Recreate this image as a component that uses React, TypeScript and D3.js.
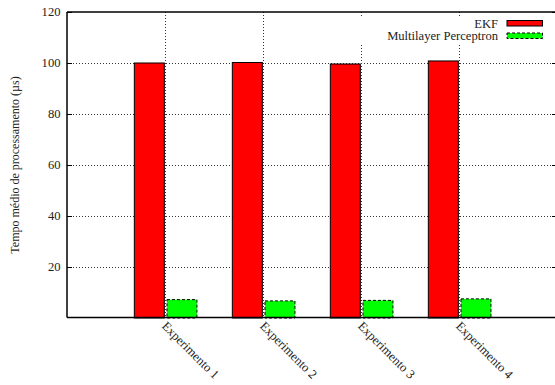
import React from "react";
import * as d3 from "d3";

const categories = ["Experimento 1", "Experimento 2", "Experimento 3", "Experimento 4"];
const ekfValues = [100.0, 100.2, 99.6, 100.8];
const mlpValues = [7.2, 6.7, 6.9, 7.5];
const yTicks = [20, 40, 60, 80, 100, 120];
const seriesNames = ["EKF", "Multilayer Perceptron"];
const seriesColors = ["#ff0000", "#00ff00"];

const W = 555;
const H = 385;
const FONT = '"Liberation Serif"';

export default function App() {
  const x = d3.scaleLinear().domain([-1, 4]).range([67, 557]);
  const y = d3.scaleLinear().domain([0, 120]).range([318, 12]);
  const barW = x(0.306) - x(0);
  const left = 67;
  const right = 557;
  const top = 12;
  const bottom = 317.5;
  const ts = { fontFamily: FONT, fontSize: 12.6 } as React.CSSProperties;

  return (
    <svg
      width={W}
      height={H}
      style={{ position: "absolute", left: 0, top: 0, background: "#fff", fontFamily: FONT }}
    >
      <rect x={0} y={0} width={W} height={H} fill="#fff" />
      {yTicks.filter((t) => t < 120).map((t) => (
        <line
          key={"hg" + t}
          x1={left}
          x2={right}
          y1={Math.round(y(t)) + 0.5}
          y2={Math.round(y(t)) + 0.5}
          stroke="#333"
          strokeWidth={1}
          strokeDasharray="1,2"
        />
      ))}
      {categories.map((c, i) => (
        <line
          key={"vg" + i}
          x1={Math.round(x(i)) + 0.5}
          x2={Math.round(x(i)) + 0.5}
          y1={top}
          y2={bottom}
          stroke="#333"
          strokeWidth={1}
          strokeDasharray="1,2"
        />
      ))}
      {yTicks.map((t) => (
        <g key={"yt" + t}>
          <line x1={left} x2={left + 5} y1={Math.round(y(t)) + 0.5} y2={Math.round(y(t)) + 0.5} stroke="#000" />
          <line x1={right - 5} x2={right} y1={Math.round(y(t)) + 0.5} y2={Math.round(y(t)) + 0.5} stroke="#000" />
          <text x={60.5} y={y(t)} textAnchor="end" dominantBaseline="central" style={ts} fill="#222">
            {t}
          </text>
        </g>
      ))}
      {categories.map((c, i) => (
        <g key={"b" + i}>
          <rect
            x={x(i - 0.313)}
            y={y(ekfValues[i])}
            width={barW}
            height={y(0) - y(ekfValues[i])}
            fill={seriesColors[0]}
            stroke="#000"
            strokeWidth={1}
          />
          <rect
            x={x(i + 0.02)}
            y={y(mlpValues[i])}
            width={barW}
            height={y(0) - y(mlpValues[i])}
            fill={seriesColors[1]}
            stroke="#000"
            strokeWidth={1}
            strokeDasharray="3,2"
          />
        </g>
      ))}
      {categories.map((c, i) => (
        <text
          key={"xl" + i}
          transform={`translate(${x(i) - 1},${324}) rotate(45)`}
          textAnchor="start"
          dominantBaseline="central"
          style={ts}
          fill="#222"
        >
          {c}
        </text>
      ))}
      <rect x={356} y={17} width={199} height={26} fill="#fff" />
      {seriesNames.map((s, k) => (
        <g key={"lg" + k}>
          <text x={498} y={23.5 + k * 12.5} textAnchor="end" dominantBaseline="central" style={ts} fill="#222">
            {s}
          </text>
          <rect
            x={507}
            y={20.5 + k * 12.5}
            width={35.5}
            height={5.5}
            fill={seriesColors[k]}
            stroke="#000"
            strokeWidth={1}
            strokeDasharray={k === 1 ? "3,2" : undefined}
          />
        </g>
      ))}
      <line x1={left} x2={right} y1={top} y2={top} stroke="#000" strokeWidth={1.5} />
      <line x1={left} x2={right} y1={bottom} y2={bottom} stroke="#000" strokeWidth={1.5} />
      <line x1={left} x2={left} y1={top} y2={bottom} stroke="#000" strokeWidth={1.5} />
      <text
        transform={`translate(15,${165}) rotate(-90)`}
        textAnchor="middle"
        dominantBaseline="central"
        style={{ fontFamily: FONT, fontSize: 12 }}
        fill="#222"
      >
        Tempo médio de processamento (µs)
      </text>
    </svg>
  );
}
